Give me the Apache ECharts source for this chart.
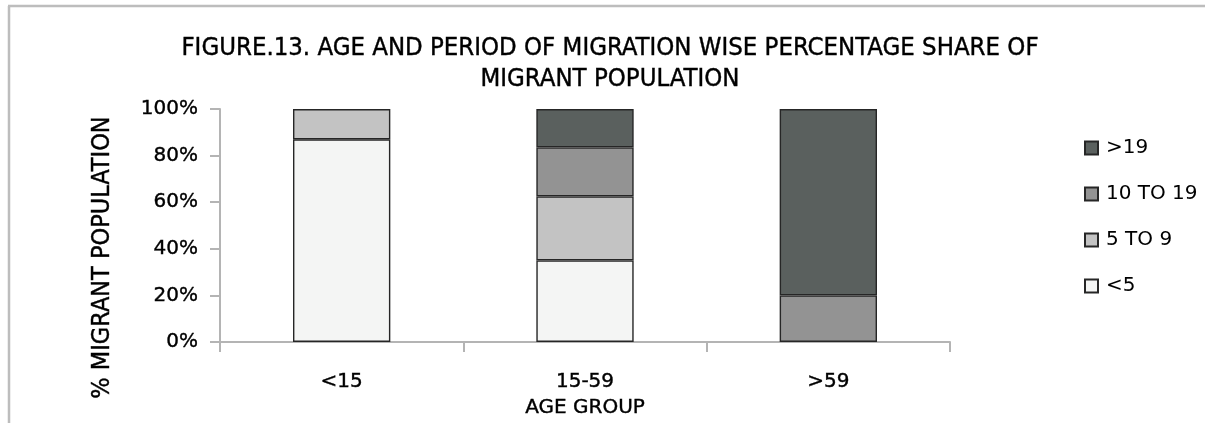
<!DOCTYPE html>
<html>
<head>
<meta charset="utf-8">
<script src="https://cdn.jsdelivr.net/npm/echarts@6/dist/echarts.min.js"></script>
<style>
  html, body { margin: 0; padding: 0; background: #fff; }
  #chart { width: 1205px; height: 423px; }
</style>
</head>
<body>
<div id="chart"></div>
<script>
// Age groups on the x axis
const ageGroups = ['<15', '15-59', '>59'];

// Period of migration (years), percentage share in each age group
const under5 = [87, 35, 0];
const from5to9 = [13, 27.5, 0];
const from10to19 = [0, 21, 20];
const over19 = [0, 16.5, 80];

const yTicks = [0, 20, 40, 60, 80, 100];

const FONT = 'DejaVu Sans';
const FONT_NARROW = '"DejaVu Sans Condensed", "DejaVu Sans"';

// a light outline gives the labels a slightly heavier stroke
const ink = { color: '#000', textBorderColor: '#000', textBorderWidth: 0.4 };

const periods = [
  { name: '<5', values: under5, color: '#f4f5f4' },
  { name: '5 TO 9', values: from5to9, color: '#c3c3c3' },
  { name: '10 TO 19', values: from10to19, color: '#939393' },
  { name: '>19', values: over19, color: '#5a605e' }
];

const chart = echarts.init(document.getElementById('chart'), null, { renderer: 'canvas' });

chart.setOption({
  backgroundColor: '#ffffff',
  animation: false,
  title: {
    text: 'FIGURE.13. AGE AND PERIOD OF MIGRATION WISE PERCENTAGE SHARE OF\nMIGRANT POPULATION',
    left: 605,
    textAlign: 'center',
    top: 28,
    textStyle: Object.assign({ fontFamily: FONT_NARROW, fontSize: 25.5, fontWeight: 'normal', lineHeight: 31 }, ink)
  },
  legend: {
    orient: 'vertical',
    left: 1079,
    top: 133,
    itemWidth: 13,
    itemHeight: 13,
    itemGap: 26,
    icon: 'rect',
    data: periods.map(p => p.name).reverse(),
    textStyle: { fontFamily: FONT, fontSize: 20, lineHeight: 20, color: '#000', padding: [0, 0, 0, 3] }
  },
  grid: { left: 220, right: 255, top: 109, bottom: 81, containLabel: false },
  xAxis: {
    type: 'category',
    data: ageGroups,
    name: 'AGE GROUP',
    nameLocation: 'middle',
    nameGap: 54,
    nameTextStyle: Object.assign({ fontFamily: FONT, fontSize: 20 }, ink),
    axisLine: { lineStyle: { color: '#b4b4b4', width: 2 } },
    axisTick: { show: true, length: 10, lineStyle: { color: '#b4b4b4', width: 2 } },
    axisLabel: Object.assign({ fontFamily: FONT, fontSize: 20, margin: 30 }, ink)
  },
  yAxis: {
    type: 'value',
    min: yTicks[0],
    max: yTicks[yTicks.length - 1],
    interval: yTicks[1] - yTicks[0],
    name: '% MIGRANT POPULATION',
    nameLocation: 'middle',
    nameGap: 105,
    nameTextStyle: Object.assign({ fontFamily: FONT_NARROW, fontSize: 25, padding: [0, 64, 0, 0] }, ink),
    axisLine: { show: true, lineStyle: { color: '#b4b4b4', width: 2 } },
    axisTick: { show: true, length: 10, lineStyle: { color: '#b4b4b4', width: 2 } },
    splitLine: { show: false },
    axisLabel: Object.assign({ fontFamily: FONT, fontSize: 20, margin: 22, formatter: '{value}%' }, ink)
  },
  series: periods.map(p => ({
    name: p.name,
    type: 'bar',
    stack: 'share',
    barWidth: '40%',
    data: p.values.map(v => (v === 0 ? '-' : v)),
    itemStyle: { color: p.color, borderColor: '#262626', borderWidth: 1.4 }
  })),
  graphic: [
    { type: 'line', shape: { x1: 9, y1: 6, x2: 9, y2: 423 }, style: { stroke: '#bdbdbd', lineWidth: 2.5 } },
    { type: 'line', shape: { x1: 8, y1: 6, x2: 1205, y2: 6 }, style: { stroke: '#bdbdbd', lineWidth: 2.5 } }
  ]
});
</script>
</body>
</html>
